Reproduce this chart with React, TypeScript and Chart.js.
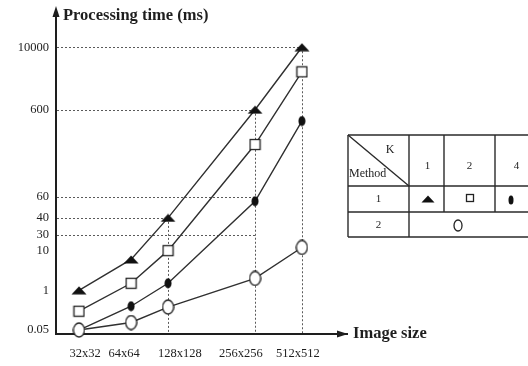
import React, { useEffect, useRef } from 'react';
import { Chart, LinearScale, registerables } from 'chart.js';

Chart.register(...registerables);

// ---------------- data ----------------
const categories = ['32x32', '64x64', '128x128', '256x256', '512x512'];
const timeTicks = [0.05, 1, 10, 30, 40, 60, 600, 10000];
const timeTickLabels = ['0.05', '1', '10', '30', '40', '60', '600', '10000'];
const kValues = ['1', '2', '4'];
const methodLabels = ['1', '2'];

const method1K1 = [1, 8, 40, 600, 10000];
const method1K2 = [0.5, 2.6, 10, 385, 6300];
const method1K4 = [0.05, 0.62, 2.6, 56, 530];
const method2 = [0.05, 0.23, 0.6, 3.7, 14];

// dotted guide lines: [time value, category index]
const hGuides = [[10000, 4], [600, 3], [60, 3], [40, 2], [30, 3]];
// [category index, time value]
const vGuides = [[2, 40], [3, 600], [4, 10000]];

// ---------------- layout (positions along the drawn axes) ----------------
const Y_ANCHORS = [
  [0, 0], [0.05, 0.0124], [1, 0.1366], [10, 0.2609], [30, 0.3106], [40, 0.3634],
  [60, 0.4286], [600, 0.7019], [10000, 0.8975], [20000, 1],
];
const X_ANCHORS = [[-1, 0], [0, 0.079], [1, 0.258], [2, 0.385], [3, 0.684], [4, 0.845], [5, 1]];
const X_LABEL_FRACS = [0.0997, 0.2337, 0.4261, 0.6357, 0.8316];

const SERIF = "'Liberation Serif', 'Times New Roman', serif";
const INK = '#1e1e1e';

function interp(v: number, pairs: number[][]) {
  if (v <= pairs[0][0]) return pairs[0][1];
  for (let i = 1; i < pairs.length; i++) {
    const [v0, f0] = pairs[i - 1];
    const [v1, f1] = pairs[i];
    if (v <= v1) return f0 + ((f1 - f0) * (v - v0)) / (v1 - v0);
  }
  return pairs[pairs.length - 1][1];
}

function anchoredScale(id: string, anchors: number[][], tickValues: number[], labelFracs?: number[]) {
  const inv = anchors.map(([a, b]) => [b, a]);
  const Cls = class extends LinearScale {
    buildTicks() {
      return tickValues.map((v) => ({ value: v }));
    }
    getPixelForValue(v: number) {
      return this.getPixelForDecimal(interp(v, anchors));
    }
    getValueForPixel(p: number) {
      return interp(this.getDecimalForPixel(p), inv);
    }
    getPixelForTick(i: number) {
      return labelFracs ? this.getPixelForDecimal(labelFracs[i]) : this.getPixelForValue(tickValues[i]);
    }
  };
  (Cls as any).id = id;
  return Cls;
}

const SizeScale = anchoredScale('sizeAxis', X_ANCHORS, categories.map((_, i) => i), X_LABEL_FRACS);
const TimeScale = anchoredScale('timeAxis', Y_ANCHORS, timeTicks);
Chart.register(SizeScale as any, TimeScale as any);

function makeMarker(kind: string, w: number, h: number) {
  const c = document.createElement('canvas');
  c.width = w;
  c.height = h;
  const g = c.getContext('2d')!;
  g.lineWidth = 1.3;
  g.strokeStyle = '#222';
  g.fillStyle = '#111';
  if (kind === 'triangle') {
    g.beginPath();
    g.moveTo(0.5, h - 0.5);
    g.lineTo(w / 2, 0.5);
    g.lineTo(w - 0.5, h - 0.5);
    g.closePath();
    g.fill();
  } else if (kind === 'square') {
    g.fillStyle = '#fff';
    g.fillRect(1, 1, w - 2, h - 2);
    g.strokeRect(1.5, 1.5, w - 3, h - 3);
  } else if (kind === 'dot') {
    g.beginPath();
    g.ellipse(w / 2, h / 2, w / 2 - 0.5, h / 2 - 0.5, 0, 0, Math.PI * 2);
    g.fill();
  } else {
    g.fillStyle = '#fff';
    g.beginPath();
    g.ellipse(w / 2, h / 2, w / 2 - 1, h / 2 - 1, 0, 0, Math.PI * 2);
    g.fill();
    g.stroke();
  }
  return c;
}

export default function App() {
  const ref = useRef<HTMLCanvasElement>(null);

  useEffect(() => {
    const canvas = ref.current!;
    const tri = makeMarker('triangle', 16, 9);
    const sq = makeMarker('square', 13, 13);
    const dot = makeMarker('dot', 8, 11);
    const circ = makeMarker('circle', 13, 16);
    const triS = makeMarker('triangle', 14, 8);
    const sqS = makeMarker('square', 10, 10);
    const dotS = makeMarker('dot', 6, 10);
    const circS = makeMarker('circle', 10, 13);

    const toPts = (vals: number[]) => vals.map((v, i) => ({ x: i, y: v }));

    const guides = {
      id: 'guides',
      beforeDatasetsDraw(chart: any) {
        const { ctx, chartArea, scales } = chart;
        const x = scales.x;
        const y = scales.y;
        ctx.save();
        ctx.strokeStyle = '#5a5a5a';
        ctx.lineWidth = 1;
        ctx.setLineDash([2, 2]);
        for (const [v, c] of hGuides) {
          const py = Math.round(y.getPixelForValue(v)) + 0.5;
          ctx.beginPath();
          ctx.moveTo(chartArea.left + 1, py);
          ctx.lineTo(x.getPixelForValue(c), py);
          ctx.stroke();
        }
        for (const [c, v] of vGuides) {
          const px = Math.round(x.getPixelForValue(c)) + 0.5;
          ctx.beginPath();
          ctx.moveTo(px, y.getPixelForValue(v));
          ctx.lineTo(px, chartArea.bottom - 1);
          ctx.stroke();
        }
        ctx.restore();
      },
    };

    const decor = {
      id: 'decor',
      afterDraw(chart: any) {
        const { ctx, chartArea } = chart;
        const L = chartArea.left;
        const B = chartArea.bottom;
        ctx.save();
        ctx.fillStyle = INK;
        // y arrow
        ctx.beginPath();
        ctx.moveTo(L, 6);
        ctx.lineTo(L - 3.5, 17);
        ctx.lineTo(L + 3.5, 17);
        ctx.closePath();
        ctx.fill();
        // x arrow
        ctx.beginPath();
        ctx.moveTo(chartArea.right + 1, B);
        ctx.lineTo(chartArea.right - 10, B - 3.5);
        ctx.lineTo(chartArea.right - 10, B + 3.5);
        ctx.closePath();
        ctx.fill();
        // axis titles
        ctx.font = `bold 16.5px ${SERIF}`;
        ctx.textBaseline = 'alphabetic';
        ctx.textAlign = 'left';
        ctx.fillText('Processing time (ms)', L + 7, 20);
        ctx.fillText('Image size', chartArea.right + 6, B + 4);

        // legend table
        const T = 135, H1 = 186, R1 = 212, R2 = 237;
        const C0 = 348, C1 = 409, C2 = 444, C3 = 495, CR = 528;
        ctx.strokeStyle = '#2a2a2a';
        ctx.lineWidth = 1.4;
        const seg = (x1: number, y1: number, x2: number, y2: number) => {
          ctx.beginPath();
          ctx.moveTo(x1, y1);
          ctx.lineTo(x2, y2);
          ctx.stroke();
        };
        [T, H1, R1, R2].forEach((yy) => seg(C0, yy, CR, yy));
        seg(C0, T, C0, R2);
        seg(C1, T, C1, R2);
        seg(C2, T, C2, R1);
        seg(C3, T, C3, R1);
        seg(C0, T, C1, H1);

        ctx.fillStyle = INK;
        ctx.textAlign = 'center';
        ctx.textBaseline = 'middle';
        ctx.font = `12px ${SERIF}`;
        ctx.fillText('K', 390, 150);
        ctx.textAlign = 'left';
        ctx.fillText('Method', C0 + 1, 174);
        ctx.textAlign = 'center';
        ctx.font = `11px ${SERIF}`;
        const colC = [(C1 + C2) / 2 + 1, (C2 + C3) / 2, (C3 + CR) / 2 + 5];
        kValues.forEach((k, i) => ctx.fillText(k, colC[i], 166));
        ctx.fillText(methodLabels[0], (C0 + C1) / 2, 199);
        ctx.fillText(methodLabels[1], (C0 + C1) / 2, 225);
        const put = (img: HTMLCanvasElement, cx: number, cy: number) =>
          ctx.drawImage(img, Math.round(cx - img.width / 2), Math.round(cy - img.height / 2));
        put(triS, colC[0], 199);
        put(sqS, colC[1], 198);
        put(dotS, colC[2] - 6, 200);
        put(circS, 458, 225);
        ctx.restore();
      },
    };

    const lineCommon = {
      borderColor: '#303030',
      borderWidth: 1.4,
      pointRadius: 6,
      tension: 0,
      fill: false,
    };

    const chart = new Chart(canvas, {
      type: 'line',
      data: {
        datasets: [
          { label: 'Method 2', data: toPts(method2), pointStyle: circ, order: 0, ...lineCommon },
          { label: 'Method 1, K=4', data: toPts(method1K4), pointStyle: dot, order: 1, ...lineCommon },
          { label: 'Method 1, K=2', data: toPts(method1K2), pointStyle: sq, order: 2, ...lineCommon },
          { label: 'Method 1, K=1', data: toPts(method1K1), pointStyle: tri, order: 3, ...lineCommon },
        ] as any,
      },
      options: {
        animation: false,
        responsive: false,
        maintainAspectRatio: false,
        events: [],
        layout: { padding: { top: 12, right: 181, bottom: 0, left: 0 } },
        plugins: { legend: { display: false }, tooltip: { enabled: false } },
        scales: {
          x: {
            type: 'sizeAxis' as any,
            position: 'bottom',
            grid: { display: false, drawTicks: false },
            border: { display: true, color: INK, width: 2 },
            ticks: {
              autoSkip: false,
              maxRotation: 0,
              padding: 12,
              color: INK,
              font: { family: SERIF, size: 12.5 },
              callback: (_v: any, i: number) => categories[i],
            },
            afterFit: (s: any) => {
              s.height = 32;
            },
          },
          y: {
            type: 'timeAxis' as any,
            position: 'left',
            grid: { display: false, drawTicks: false },
            border: { display: true, color: INK, width: 2 },
            ticks: {
              autoSkip: false,
              padding: 7,
              color: INK,
              font: { family: SERIF, size: 12.5 },
              callback: (_v: any, i: number) => timeTickLabels[i],
            },
            afterFit: (s: any) => {
              s.width = 56;
            },
          },
        } as any,
      },
      plugins: [guides, decor],
    });
    return () => chart.destroy();
  }, []);

  return (
    <div style={{ position: 'absolute', left: 0, top: 0, width: 528, height: 366, background: '#fff' }}>
      <canvas ref={ref} width={528} height={366} style={{ display: 'block' }} />
    </div>
  );
}
